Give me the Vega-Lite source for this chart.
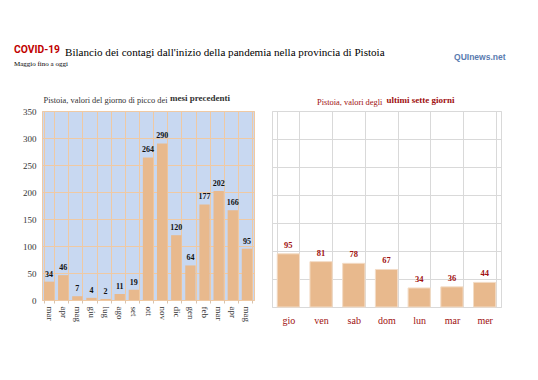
{
  "$schema": "https://vega.github.io/schema/vega-lite/v6.json",
  "background": "white",
  "padding": {"left": 14, "top": 44, "right": 5, "bottom": 5},
  "config": {
    "font": "Liberation Serif",
    "view": {"stroke": null},
    "concat": {"spacing": 16},
    "title": {"anchor": "start", "font": "Liberation Serif", "fontWeight": "normal", "color": "#000"}
  },
  "datasets": {
    "mesi": [
      {"mese": "mar 2020", "casi": 34},
      {"mese": "apr 2020", "casi": 46},
      {"mese": "mag 2020", "casi": 7},
      {"mese": "giu 2020", "casi": 4},
      {"mese": "lug 2020", "casi": 2},
      {"mese": "ago 2020", "casi": 11},
      {"mese": "set 2020", "casi": 19},
      {"mese": "ott 2020", "casi": 264},
      {"mese": "nov 2020", "casi": 290},
      {"mese": "dic 2020", "casi": 120},
      {"mese": "gen 2021", "casi": 64},
      {"mese": "feb 2021", "casi": 177},
      {"mese": "mar 2021", "casi": 202},
      {"mese": "apr 2021", "casi": 166},
      {"mese": "mag 2021", "casi": 95}
    ],
    "giorni": [
      {"giorno": "gio", "casi": 95},
      {"giorno": "ven", "casi": 81},
      {"giorno": "sab", "casi": 78},
      {"giorno": "dom", "casi": 67},
      {"giorno": "lun", "casi": 34},
      {"giorno": "mar", "casi": 36},
      {"giorno": "mer", "casi": 44}
    ]
  },
  "title": {
    "text": "QUInews.net",
    "anchor": "end",
    "font": "Liberation Sans",
    "fontWeight": "bold",
    "fontSize": 8.5,
    "color": "#5a7bb0",
    "offset": 0,
    "dx": 4,
    "dy": 17
  },
  "vconcat": [
    {
      "title": {
        "text": "Bilancio dei contagi dall'inizio della pandemia nella provincia di Pistoia",
        "fontSize": 11.1,
        "color": "#000",
        "offset": 0,
        "dx": 51,
        "dy": 13
      },
      "vconcat": [
        {
          "title": {
            "text": "COVID-19",
            "subtitle": "Maggio fino a oggi",
            "font": "Roboto",
            "fontWeight": "bold",
            "fontSize": 10.3,
            "color": "#c00000",
            "subtitleFont": "Liberation Serif",
            "subtitleFontSize": 7,
            "subtitleColor": "#000",
            "subtitlePadding": 5,
            "offset": 27,
            "dx": -8
          },
          "hconcat": [
            {
              "title": {
                "text": "mesi precedenti",
                "fontWeight": "bold",
                "fontSize": 9,
                "color": "#333",
                "offset": 0,
                "dx": 148,
                "dy": 8
              },
              "vconcat": [
                {
                  "title": {
                    "text": "Pistoia, valori del giorno di picco dei",
                    "fontSize": 8.4,
                    "color": "#333",
                    "offset": 3,
                    "dx": 21
                  },
                  "width": 212,
                  "height": 189,
                  "view": {"fill": "#c8d8f1", "stroke": "#efc9a3"},
                  "data": {"name": "mesi"},
                  "encoding": {
                    "x": {
                      "field": "mese",
                      "type": "nominal",
                      "sort": null,
                      "scale": {"paddingInner": 0.27, "paddingOuter": 0.135},
                      "axis": {
                        "title": null,
                        "labelExpr": "split(datum.label, ' ')[0]",
                        "labelAngle": 90,
                        "labelFont": "Liberation Serif",
                        "labelFontSize": 9,
                        "labelColor": "#333",
                        "labelPadding": 3,
                        "grid": true,
                        "gridColor": "#efc9a3",
                        "gridOpacity": 1,
                        "tickBand": "extent",
                        "ticks": true,
                        "tickSize": 3,
                        "tickColor": "#d9c3ad",
                        "domain": false
                      }
                    },
                    "y": {
                      "field": "casi",
                      "type": "quantitative",
                      "scale": {"domain": [0, 350]},
                      "axis": {
                        "title": null,
                        "values": [0, 50, 100, 150, 200, 250, 300, 350],
                        "labelFont": "Liberation Serif",
                        "labelFontSize": 9,
                        "labelColor": "#333",
                        "labelPadding": 6,
                        "ticks": false,
                        "domain": false,
                        "grid": true,
                        "gridColor": "#efc9a3",
                        "gridOpacity": 1
                      }
                    }
                  },
                  "layer": [
                    {"mark": {"type": "bar", "color": "#e8b98d"}},
                    {
                      "mark": {"type": "text", "baseline": "bottom", "dy": -3, "fontWeight": "bold", "fontSize": 8, "font": "Liberation Serif", "color": "#111"},
                      "encoding": {"text": {"field": "casi", "type": "quantitative"}}
                    }
                  ]
                }
              ]
            },
            {
              "title": {
                "text": "ultimi sette giorni",
                "fontWeight": "bold",
                "fontSize": 9,
                "color": "#a01010",
                "offset": 0,
                "dx": 115,
                "dy": 8
              },
              "vconcat": [
                {
                  "title": {
                    "text": "Pistoia, valori degli",
                    "fontSize": 8.4,
                    "color": "#a01010",
                    "offset": 5,
                    "dx": 45
                  },
                  "width": 229,
                  "height": 196,
                  "view": {"fill": "white", "stroke": "#d9d9d9"},
                  "data": {"name": "giorni"},
                  "encoding": {
                    "x": {
                      "field": "giorno",
                      "type": "nominal",
                      "sort": null,
                      "scale": {"paddingInner": 0.32, "paddingOuter": 0.16},
                      "axis": {
                        "title": null,
                        "labelAngle": 0,
                        "labelFont": "Liberation Serif",
                        "labelFontSize": 10,
                        "labelColor": "#a01010",
                        "labelPadding": 8,
                        "grid": true,
                        "gridColor": "#d9d9d9",
                        "gridOpacity": 1,
                        "tickBand": "extent",
                        "ticks": false,
                        "domain": false
                      }
                    },
                    "y": {
                      "field": "casi",
                      "type": "quantitative",
                      "scale": {"domain": [0, 350]},
                      "axis": {
                        "title": null,
                        "values": [0, 50, 100, 150, 200, 250, 300, 350],
                        "labels": false,
                        "ticks": false,
                        "domain": false,
                        "grid": true,
                        "gridColor": "#d9d9d9",
                        "gridOpacity": 1
                      }
                    }
                  },
                  "layer": [
                    {"mark": {"type": "bar", "color": "#e8b98d", "stroke": "#f3dcc6", "strokeWidth": 1}},
                    {
                      "mark": {"type": "text", "baseline": "bottom", "dy": -4, "fontWeight": "bold", "fontSize": 8.5, "font": "Liberation Serif", "color": "#a01010"},
                      "encoding": {"text": {"field": "casi", "type": "quantitative"}}
                    }
                  ]
                }
              ]
            }
          ]
        }
      ]
    }
  ]
}
